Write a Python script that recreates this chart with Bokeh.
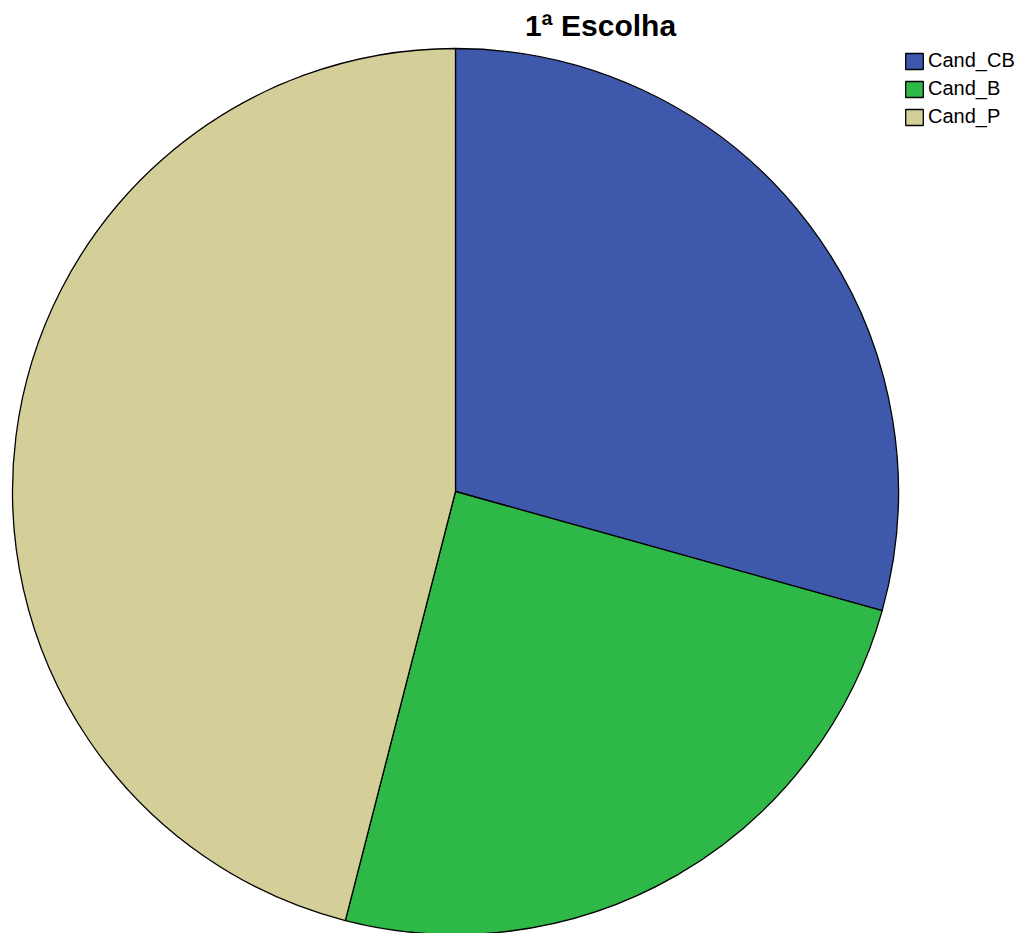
import numpy as np
from bokeh.plotting import figure
from bokeh.models import Range1d, Label, Legend, LegendItem, ColumnDataSource
from bokeh.embed import file_html
from bokeh.resources import INLINE

categories = ["Cand_CB", "Cand_B", "Cand_P"]
counts = [44, 37, 69]
colors = ["#3E58AC", "#2EB848", "#D4CE99"]
title_text = "1ª Escolha"

W, H = 1027, 933
p = figure(width=W, height=H, output_backend="svg", toolbar_location=None,
           x_range=Range1d(0, W), y_range=Range1d(-H, 0),
           min_border=0, outline_line_color=None)
p.axis.visible = False
p.xgrid.visible = False
p.ygrid.visible = False
p.background_fill_color = "white"
p.border_fill_color = "white"

vals = np.array(counts, dtype=float)
frac = vals / vals.sum()
cum = np.concatenate([[0], np.cumsum(frac)])
starts = np.pi / 2 - cum[1:] * 2 * np.pi
ends = np.pi / 2 - cum[:-1] * 2 * np.pi

cx, cy, r = 455, -491, 443
items = []
for i, cat in enumerate(categories):
    src = ColumnDataSource(dict(x=[cx], y=[cy], s=[starts[i]], e=[ends[i]]))
    rend = p.wedge(x="x", y="y", radius=r, start_angle="s", end_angle="e",
                   source=src, fill_color=colors[i], line_color="black", line_width=1.3)
    items.append(LegendItem(label=cat, renderers=[rend]))

legend = Legend(items=items, location=(903, 933 - 128), padding=0, margin=0,
                border_line_alpha=0, background_fill_alpha=0,
                glyph_width=22, glyph_height=20, label_standoff=3, spacing=5,
                label_text_font="Liberation Sans", label_text_font_size="20px",
                label_text_color="black", label_height=20)
p.add_layout(legend)

title = Label(x=600, y=-25, text=title_text, text_font="Liberation Sans",
              text_font_style="bold", text_font_size="30px", text_align="center",
              text_baseline="middle", text_color="black")
p.add_layout(title)

open("out.html", "w").write(file_html(p, INLINE))
